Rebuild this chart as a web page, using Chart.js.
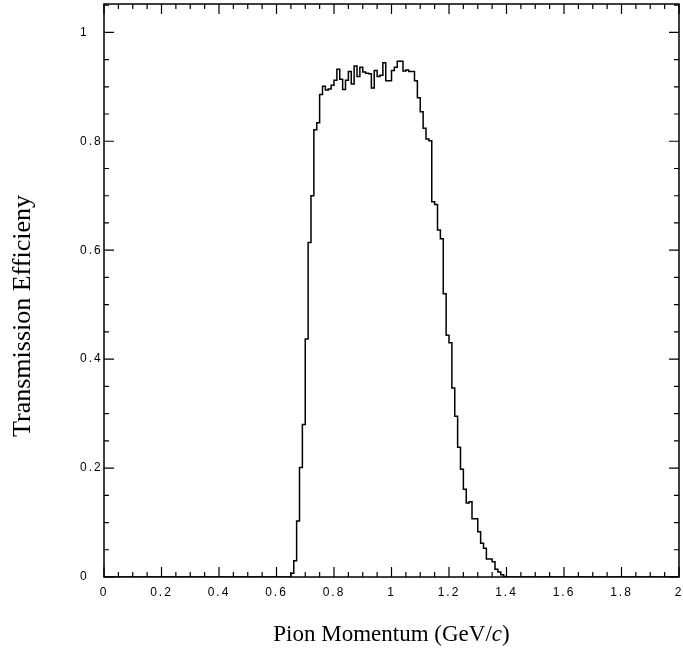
<!DOCTYPE html>
<html>
<head>
<meta charset="utf-8">
<script src="https://cdn.jsdelivr.net/npm/chart.js@4/dist/chart.umd.min.js"></script>
<style>
  html, body { margin: 0; padding: 0; background: #fff; }
  #c { display: block; }
</style>
</head>
<body>
<canvas id="c" width="683" height="651"></canvas>
<script>
// ---- data (bin left edges in GeV/c, efficiency per 0.01 GeV/c bin) ----
const binLeftEdges = [
  0.65, 0.66, 0.67, 0.68, 0.69, 0.70, 0.71, 0.72, 0.73, 0.74,
  0.75, 0.76, 0.77, 0.78, 0.79, 0.80, 0.81, 0.82, 0.83, 0.84,
  0.85, 0.86, 0.87, 0.88, 0.89, 0.90, 0.91, 0.92, 0.93, 0.94,
  0.95, 0.96, 0.97, 0.98, 0.99, 1.00, 1.01, 1.02, 1.03, 1.04,
  1.05, 1.06, 1.07, 1.08, 1.09, 1.10, 1.11, 1.12, 1.13, 1.14,
  1.15, 1.16, 1.17, 1.18, 1.19, 1.20, 1.21, 1.22, 1.23, 1.24,
  1.25, 1.26, 1.27, 1.28, 1.29, 1.30, 1.31, 1.32, 1.33, 1.34,
  1.35, 1.36, 1.37, 1.38, 1.39
];
const efficiency = [
  0.007, 0.030, 0.103, 0.201, 0.280, 0.437, 0.614, 0.700, 0.821, 0.834,
  0.886, 0.901, 0.894, 0.896, 0.903, 0.912, 0.932, 0.914, 0.895, 0.912,
  0.928, 0.905, 0.938, 0.919, 0.936, 0.927, 0.925, 0.924, 0.898, 0.930,
  0.919, 0.921, 0.944, 0.911, 0.911, 0.930, 0.936, 0.947, 0.947, 0.929,
  0.931, 0.928, 0.928, 0.911, 0.880, 0.854, 0.824, 0.804, 0.801, 0.689,
  0.684, 0.637, 0.621, 0.520, 0.444, 0.430, 0.347, 0.295, 0.238, 0.198,
  0.161, 0.136, 0.138, 0.107, 0.107, 0.083, 0.062, 0.053, 0.033, 0.033,
  0.028, 0.014, 0.009, 0.004, 0.001
];
const histogramEnd = 1.40;   // right edge of last bin
const xRange = [0, 2];
const yRange = [0, 1.052];
const xTickValues = [0, 0.2, 0.4, 0.6, 0.8, 1.0, 1.2, 1.4, 1.6, 1.8, 2.0];
const xTickLabels = ['0', '0.2', '0.4', '0.6', '0.8', '1', '1.2', '1.4', '1.6', '1.8', '2'];
const yTickValues = [0, 0.2, 0.4, 0.6, 0.8, 1.0];
const yTickLabels = ['0', '0.2', '0.4', '0.6', '0.8', '1'];
const xTitleParts = [['Pion Momentum (GeV/', 'normal'], ['c', 'italic'], [')', 'normal']];
const yTitle = 'Transmission Efficieny';

// ---- build step-line points ----
const points = [{x: xRange[0], y: 0}];
binLeftEdges.forEach((e, i) => points.push({x: e, y: efficiency[i]}));
points.push({x: histogramEnd, y: 0});
points.push({x: xRange[1], y: 0});

const SERIF = '"Liberation Serif", "Times New Roman", serif';
const SANS = '"Liberation Sans", Arial, sans-serif';

const spacingPlugin = {
  id: 'spacing',
  beforeLayout(chart) { chart.ctx.letterSpacing = '2px'; },
  beforeDraw(chart) { chart.ctx.letterSpacing = '2px'; }
};

const framePlugin = {
  id: 'frame',
  afterDraw(chart) {
    const ctx = chart.ctx;
    const a = chart.chartArea;
    const xs = chart.scales.x, ys = chart.scales.y;
    ctx.save();
    ctx.letterSpacing = '0px';
    ctx.strokeStyle = '#000';
    ctx.lineWidth = 1.5;
    ctx.strokeRect(a.left, a.top, a.right - a.left, a.bottom - a.top);
    ctx.lineWidth = 1.2;
    ctx.beginPath();
    for (let k = 0; k <= 40; k++) {
      const v = k * 0.05;
      const px = xs.getPixelForValue(v);
      const len = (k % 4 === 0) ? 10 : 5;
      ctx.moveTo(px, a.bottom); ctx.lineTo(px, a.bottom - len);
      ctx.moveTo(px, a.top); ctx.lineTo(px, a.top + len);
    }
    for (let k = 0; k <= 21; k++) {
      const v = k * 0.05;
      if (v > yRange[1]) break;
      const py = ys.getPixelForValue(v);
      const len = (k % 4 === 0) ? 10 : 5;
      ctx.moveTo(a.left, py); ctx.lineTo(a.left + len, py);
      ctx.moveTo(a.right, py); ctx.lineTo(a.right - len, py);
    }
    ctx.stroke();

    // x-axis title with italic c
    ctx.fillStyle = '#000';
    ctx.textBaseline = 'alphabetic';
    let total = 0;
    const widths = xTitleParts.map(([t, s]) => {
      ctx.font = s + ' 23px ' + SERIF;
      const w = ctx.measureText(t).width; total += w; return w;
    });
    let x = (a.left + a.right) / 2 - total / 2;
    xTitleParts.forEach(([t, s], i) => {
      ctx.font = s + ' 23px ' + SERIF;
      ctx.textAlign = 'left';
      ctx.fillText(t, x, 641);
      x += widths[i];
    });

    // y-axis title
    ctx.translate(30, 316);
    ctx.rotate(-Math.PI / 2);
    ctx.font = 'normal 26px ' + SERIF;
    ctx.textAlign = 'center';
    ctx.fillText(yTitle, 0, 0);
    ctx.restore();
  }
};

new Chart(document.getElementById('c'), {
  type: 'line',
  data: {
    datasets: [{
      data: points,
      stepped: 'before',
      borderColor: '#000',
      borderWidth: 1.5,
      pointRadius: 0,
      fill: false
    }]
  },
  options: {
    responsive: false,
    animation: false,
    devicePixelRatio: 1,
    layout: { padding: { top: 4, right: 4, left: 80, bottom: 0 } },
    plugins: { legend: { display: false }, tooltip: { enabled: false } },
    scales: {
      x: {
        type: 'linear',
        min: xRange[0], max: xRange[1],
        afterBuildTicks: s => { s.ticks = xTickValues.map(v => ({value: v})); },
        afterFit: s => { s.height = 74; s.paddingLeft = 0; s.paddingRight = 0; },
        ticks: {
          autoSkip: false, maxRotation: 0, padding: 8,
          color: '#000', font: { family: SANS, size: 12 },
          callback: (v, i) => xTickLabels[i]
        },
        grid: { display: false, drawTicks: false },
        border: { display: false }
      },
      y: {
        type: 'linear',
        min: yRange[0], max: yRange[1],
        afterBuildTicks: s => { s.ticks = yTickValues.map(v => ({value: v})); },
        afterFit: s => { s.width = 24; s.paddingTop = 0; s.paddingBottom = 0; },
        ticks: {
          autoSkip: false, padding: 4, crossAlign: 'far',
          color: '#000', font: { family: SANS, size: 12 },
          callback: (v, i) => yTickLabels[i]
        },
        grid: { display: false, drawTicks: false },
        border: { display: false }
      }
    }
  },
  plugins: [spacingPlugin, framePlugin]
});
</script>
</body>
</html>
